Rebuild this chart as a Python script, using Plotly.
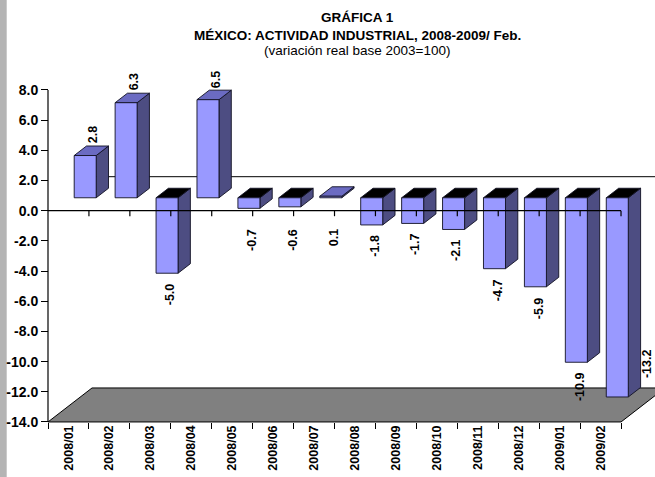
import plotly.graph_objects as go

# ---------------- data ----------------
categories = ["2008/01", "2008/02", "2008/03", "2008/04", "2008/05", "2008/06", "2008/07",
              "2008/08", "2008/09", "2008/10", "2008/11", "2008/12", "2009/01", "2009/02"]
values = [2.8, 6.3, -5.0, 6.5, -0.7, -0.6, 0.1, -1.8, -1.7, -2.1, -4.7, -5.9, -10.9, -13.2]
y_ticks = [-14, -12, -10, -8, -6, -4, -2, 0, 2, 4, 6, 8]
title_lines = ["GRÁFICA 1", "MÉXICO: ACTIVIDAD INDUSTRIAL, 2008-2009/ Feb.", "(variación real base 2003=100)"]

# ---------------- geometry / style ----------------
W, H = 655, 477
PX_X0 = 48.0          # pixel of the front value axis
CAT_W = 40.93         # pixels per category
PX_Y0 = 210.7         # pixel of value 0 (front)
PPU = 15.09           # pixels per value unit
YMIN, YMAX = y_ticks[0], y_ticks[-1]

DEPTH_DX = 44.0 / CAT_W   # full depth offset (x, category units)
DEPTH_DY = 34.0 / PPU     # full depth offset (y, value units)
F0, F1 = 0.38, 0.66       # depth fraction of bar front / back face
BAR_W = 22.0 / CAT_W

FONT = "Liberation Sans, Arial, sans-serif"
C_FRONT = "#9999ff"
C_SIDE = "#4d4d82"
C_TOP_POS = "#6b6bc2"
C_TOP_NEG = "#000000"
C_EDGE = "#111122"
C_FLOOR = "#808080"

x_range = [-0.5 - PX_X0 / CAT_W, -0.5 + (W - PX_X0) / CAT_W]
y_range = [(PX_Y0 - H) / PPU, PX_Y0 / PPU]

n = len(categories)
bx = (F1 - F0) * DEPTH_DX   # bar depth in x
by = (F1 - F0) * DEPTH_DY   # bar depth in y

fig = go.Figure()


def poly_trace(xs, ys, fill, edge=C_EDGE, width=0.9):
    return go.Scatter(x=xs, y=ys, mode="lines", fill="toself", fillcolor=fill,
                      line=dict(color=edge, width=width), hoverinfo="skip", showlegend=False)


# floor
fx = [-0.5, n - 0.5, n - 0.5 + DEPTH_DX, -0.5 + DEPTH_DX, -0.5]
fy = [YMIN, YMIN, YMIN + DEPTH_DY, YMIN + DEPTH_DY, YMIN]
fig.add_trace(poly_trace(fx, fy, C_FLOOR, edge="#000000", width=1))

# back zero line
fig.add_trace(go.Scatter(x=[-0.5 + DEPTH_DX, n - 0.5 + DEPTH_DX], y=[DEPTH_DY, DEPTH_DY], mode="lines",
                         line=dict(color="#000000", width=1), hoverinfo="skip", showlegend=False))

# bars
front_x, front_y, side_x, side_y = [], [], [], []
tpos_x, tpos_y, tneg_x, tneg_y = [], [], [], []
for i, v in enumerate(values):
    cx = i + F0 * DEPTH_DX
    xl, xr = cx - BAR_W / 2, cx + BAR_W / 2
    base = F0 * DEPTH_DY
    lo, hi = min(v, 0) + base, max(v, 0) + base
    front_x += [xl, xr, xr, xl, xl, None]
    front_y += [lo, lo, hi, hi, lo, None]
    side_x += [xr, xr + bx, xr + bx, xr, xr, None]
    side_y += [lo, lo + by, hi + by, hi, lo, None]
    tx = [xl, xr, xr + bx, xl + bx, xl, None]
    ty = [hi, hi, hi + by, hi + by, hi, None]
    if v > 0:
        tpos_x += tx
        tpos_y += ty
    else:
        tneg_x += tx
        tneg_y += ty

fig.add_trace(poly_trace(side_x, side_y, C_SIDE))
fig.add_trace(poly_trace(tpos_x, tpos_y, C_TOP_POS))
fig.add_trace(poly_trace(tneg_x, tneg_y, C_TOP_NEG))
fig.add_trace(poly_trace(front_x, front_y, C_FRONT))

# front zero line with ticks
zx, zy = [-0.5, n - 0.5, None], [0, 0, None]
tick_len = 5.5 / PPU
for k in range(1, n + 1):
    zx += [k - 0.5, k - 0.5, None]
    zy += [0, -tick_len, None]
fig.add_trace(go.Scatter(x=zx, y=zy, mode="lines", line=dict(color="#000000", width=1.2),
                         hoverinfo="skip", showlegend=False))

# front value axis line
fig.add_trace(go.Scatter(x=[-0.5, -0.5], y=[YMIN, YMAX], mode="lines", line=dict(color="#000000", width=1.2),
                         hoverinfo="skip", showlegend=False))

# data labels
LABEL_FONT = dict(family=FONT, size=12.5, color="#000000", weight="bold")
GAP_UP = 10 / PPU
GAP = 8 / PPU
MIN_BELOW = (PX_Y0 - 227) / PPU
floor_back = YMIN + DEPTH_DY
for i, v in enumerate(values):
    cx = i + F0 * DEPTH_DX
    base = F0 * DEPTH_DY
    txt = f"{v:.1f}"
    if v >= 1:
        fig.add_annotation(x=cx + 8 / CAT_W, y=v + base + GAP_UP, text=txt, textangle=-90,
                           xanchor="center", yanchor="bottom", showarrow=False, font=LABEL_FONT)
    else:
        ytop = min(min(v, 0) + base - GAP, MIN_BELOW)
        if ytop < floor_back:
            fig.add_annotation(x=cx + BAR_W / 2 + bx + 7 / CAT_W, y=floor_back + GAP, text=txt,
                               textangle=-90, xanchor="center", yanchor="bottom", showarrow=False,
                               font=LABEL_FONT)
        else:
            fig.add_annotation(x=cx + 3 / CAT_W, y=ytop, text=txt, textangle=-90,
                               xanchor="center", yanchor="top", showarrow=False, font=LABEL_FONT)

# title
title_y_px = [18, 35, 50]
for j, line in enumerate(title_lines):
    fig.add_annotation(xref="paper", yref="paper", x=357 / W, y=1 - title_y_px[j] / H, text=line,
                       showarrow=False, xanchor="center", yanchor="middle",
                       font=dict(family=FONT, size=13.5, color="#000000",
                                 weight="bold" if j < 2 else "normal"))

# left gray strip
fig.add_shape(type="rect", xref="paper", yref="paper", x0=0, x1=6.7 / W, y0=0, y1=1,
              fillcolor="#b4b4b4", line=dict(width=0), layer="below")

axis_y_px = PX_Y0 - YMIN * PPU
fig.update_layout(
    width=W, height=H, margin=dict(l=0, r=0, t=0, b=0, pad=0),
    paper_bgcolor="white", plot_bgcolor="white", showlegend=False,
    xaxis=dict(range=x_range, anchor="free", position=(H - axis_y_px) / H,
               tickmode="array", tickvals=list(range(n)), ticktext=categories, tickangle=-90,
               ticks="", showline=False, showgrid=False, zeroline=False, automargin=False,
               tickfont=dict(family=FONT, size=12.5, color="#000000", weight="bold"),
               minor=dict(tickmode="array", tickvals=[k - 0.5 for k in range(n + 1)], ticks="outside",
                          ticklen=6, tickcolor="#000000", tickwidth=1.2, showgrid=False)),
    yaxis=dict(range=y_range, anchor="free", position=PX_X0 / W,
               tickmode="array", tickvals=y_ticks, ticktext=[f"{t:.1f}" for t in y_ticks],
               ticks="outside", ticklen=7, tickcolor="#000000", tickwidth=1.2,
               showline=False, showgrid=False, zeroline=False, automargin=False,
               tickfont=dict(family=FONT, size=14, color="#000000", weight="bold")),
)

fig.write_html("out.html", config={"displayModeBar": False},
               post_script="document.body.style.margin='0';document.body.style.overflow='hidden';")
